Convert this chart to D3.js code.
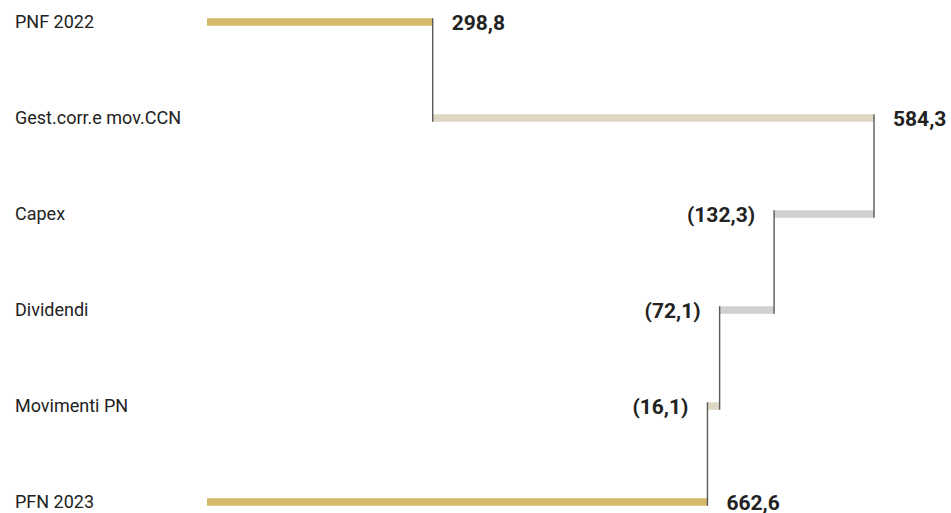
<!DOCTYPE html>
<html>
<head>
<meta charset="utf-8">
<script src="https://cdn.jsdelivr.net/npm/d3@7"></script>
<style>
  html, body { margin: 0; padding: 0; background: #ffffff; }
  svg { display: block; }
</style>
</head>
<body>
<svg id="chart" width="951" height="513"></svg>
<script>
const categories = ["PNF 2022", "Gest.corr.e mov.CCN", "Capex", "Dividendi", "Movimenti PN", "PFN 2023"];
const values = [298.8, 584.3, -132.3, -72.1, -16.1, 662.6];
const isTotal = [true, false, false, false, false, true];
const valueLabels = ["298,8", "584,3", "(132,3)", "(72,1)", "(16,1)", "662,6"];
const barColors = ["#d5b96b", "#ddd6c3", "#d0d0d0", "#d0d0d0", "#ddd6c3", "#d5b96b"];

// compute waterfall segments
let running = 0;
const rows = categories.map((c, i) => {
  let start, end;
  if (isTotal[i]) { start = 0; end = values[i]; running = values[i]; }
  else { start = running; end = running + values[i]; running = end; }
  return { cat: c, start, end, value: values[i], label: valueLabels[i], color: barColors[i] };
});

const svg = d3.select("#chart");
const maxVal = d3.max(rows, d => Math.max(d.start, d.end));
const x = d3.scaleLinear().domain([0, maxVal]).range([207, 874]);
const y = d3.scalePoint().domain(categories).range([22, 502]);
const barH = 7.5;

// bars
svg.selectAll("rect.bar").data(rows).join("rect")
  .attr("class", "bar")
  .attr("x", d => x(Math.min(d.start, d.end)))
  .attr("width", d => Math.abs(x(d.end) - x(d.start)))
  .attr("y", d => y(d.cat) - barH / 2)
  .attr("height", barH)
  .attr("fill", d => d.color);

// connectors
const links = rows.slice(0, -1).map((d, i) => ({ xv: d.end, y1: y(d.cat) - barH / 2, y2: y(rows[i + 1].cat) + barH / 2 }));
svg.selectAll("line.conn").data(links).join("line")
  .attr("class", "conn")
  .attr("x1", d => x(d.xv)).attr("x2", d => x(d.xv))
  .attr("y1", d => d.y1).attr("y2", d => d.y2)
  .attr("stroke", "#5a5a5a").attr("stroke-width", 1.4);

// category labels
svg.selectAll("text.cat").data(rows).join("text")
  .attr("class", "cat")
  .attr("x", 15)
  .attr("y", d => y(d.cat) + 6.2)
  .attr("font-family", "Roboto, sans-serif")
  .attr("font-size", 18)
  .attr("fill", "#222")
  .text(d => d.cat);

// value labels
svg.selectAll("text.val").data(rows).join("text")
  .attr("class", "val")
  .attr("x", d => d.value >= 0 ? x(Math.max(d.start, d.end)) + 19 : x(Math.min(d.start, d.end)) - 19)
  .attr("text-anchor", d => d.value >= 0 ? "start" : "end")
  .attr("y", d => y(d.cat) + 7.5)
  .attr("font-family", "Roboto, sans-serif")
  .attr("font-weight", "bold")
  .attr("font-size", 21)
  .attr("fill", "#222")
  .text(d => d.label);
</script>
</body>
</html>
